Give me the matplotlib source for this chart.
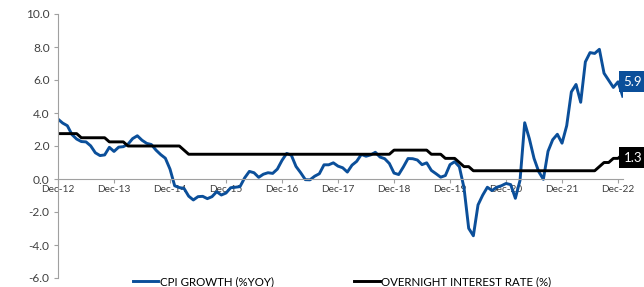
import matplotlib.pyplot as plt
import matplotlib.transforms as mtransforms

# %% data (monthly, Dec-12 .. Jan-23)

cpi = [3.63,
       3.39, 3.23, 2.69, 2.42, 2.27, 2.25, 2.01, 1.59, 1.42, 1.46, 1.92, 1.67,
       1.93, 1.96, 2.11, 2.45, 2.62, 2.35, 2.16, 2.09, 1.75, 1.48, 1.26, 0.60,
       -0.41, -0.52, -0.57, -1.04, -1.27, -1.07, -1.05, -1.19, -1.07, -0.77, -0.97, -0.85,
       -0.53, -0.50, -0.46, 0.07, 0.46, 0.38, 0.10, 0.29, 0.38, 0.34, 0.60, 1.13,
       1.55, 1.44, 0.76, 0.38, -0.04, -0.05, 0.17, 0.32, 0.86, 0.86, 0.98, 0.78,
       0.68, 0.42, 0.84, 1.07, 1.49, 1.38, 1.46, 1.62, 1.33, 1.23, 0.94, 0.36,
       0.27, 0.73, 1.24, 1.23, 1.15, 0.87, 0.98, 0.52, 0.32, 0.11, 0.21, 0.87,
       1.05, 0.74, -0.54, -2.99, -3.44, -1.57, -0.98, -0.50, -0.70, -0.50, -0.41, -0.27,
       -0.34, -1.17, -0.08, 3.41, 2.44, 1.25, 0.45, -0.02, 1.68, 2.38, 2.71, 2.17,
       3.23, 5.28, 5.73, 4.65, 7.10, 7.66, 7.61, 7.86, 6.41, 5.98, 5.55, 5.89,
       5.02]

rate = ([2.75] * 5 + [2.5] * 6 + [2.25] * 4 + [2.0] * 12 + [1.75] * 1 + [1.5] * 44
        + [1.75] * 8 + [1.5] * 3 + [1.25] * 3 + [1.0] * 1 + [0.75] * 2 + [0.5] * 27
        + [0.75] * 1 + [1.0] * 2 + [1.25] * 2 + [1.5] * 1)

tick_labels = ['Dec-12', 'Dec-13', 'Dec-14', 'Dec-15', 'Dec-16', 'Dec-17',
               'Dec-18', 'Dec-19', 'Dec-20', 'Dec-21', 'Dec-22']
end_labels = ['5.9', '1.3']
end_values = [5.9, 1.3]

# %% plot

plt.rcParams['font.family'] = ['Lato', 'DejaVu Sans']
blue = '#0b4f9a'
grey = '#404040'

fig = plt.figure(figsize=(6.44, 2.87), dpi=100)
ax = fig.add_axes([58 / 644, 9 / 287, 564.7 / 644, 264 / 287])

x = list(range(len(cpi)))
ax.plot(x, cpi, color=blue, lw=2.1, solid_joinstyle='round', label='CPI GROWTH (%YOY)')
ax.plot(x, rate, color='black', lw=2.1, label='OVERNIGHT INTEREST RATE (%)')

ax.set_xlim(0, len(cpi) - 1)
ax.set_ylim(-6, 10)
ax.set_yticks(range(-6, 11, 2))
ax.set_yticklabels(['{0:.1f}'.format(v) for v in range(-6, 11, 2)], fontsize=8.6, color=grey)
ax.tick_params(axis='y', length=3, color='#a0a0a0', pad=3)

# category axis crosses at zero
ax.spines['bottom'].set_position(('data', 0))
for s in ['top', 'right']:
    ax.spines[s].set_visible(False)
ax.spines['left'].set_color('#a0a0a0')
ax.spines['bottom'].set_color('#a0a0a0')
ax.set_xticks(range(0, len(cpi), 12))
ax.set_xticklabels(tick_labels, fontsize=7.3, color=grey)
ax.tick_params(axis='x', length=3, color='#a0a0a0', pad=1)

# end-of-series value boxes (cut by the right edge like the original)
trans = mtransforms.blended_transform_factory(fig.transFigure, ax.transData)
for txt, val, col in zip(end_labels, end_values, [blue, 'black']):
    ax.text(0.997, val, txt, transform=trans, fontsize=9.5, color='white',
            va='center', ha='right', clip_on=False,
            bbox=dict(facecolor=col, edgecolor='none', boxstyle='square,pad=0.35'))

ax.legend(loc='lower center', bbox_to_anchor=(0.503, -0.075), ncol=2, frameon=False,
          fontsize=8.3, handlelength=2.2, handletextpad=0.15, columnspacing=7.0,
          labelcolor='black')

fig.savefig('out.png', dpi=100)
